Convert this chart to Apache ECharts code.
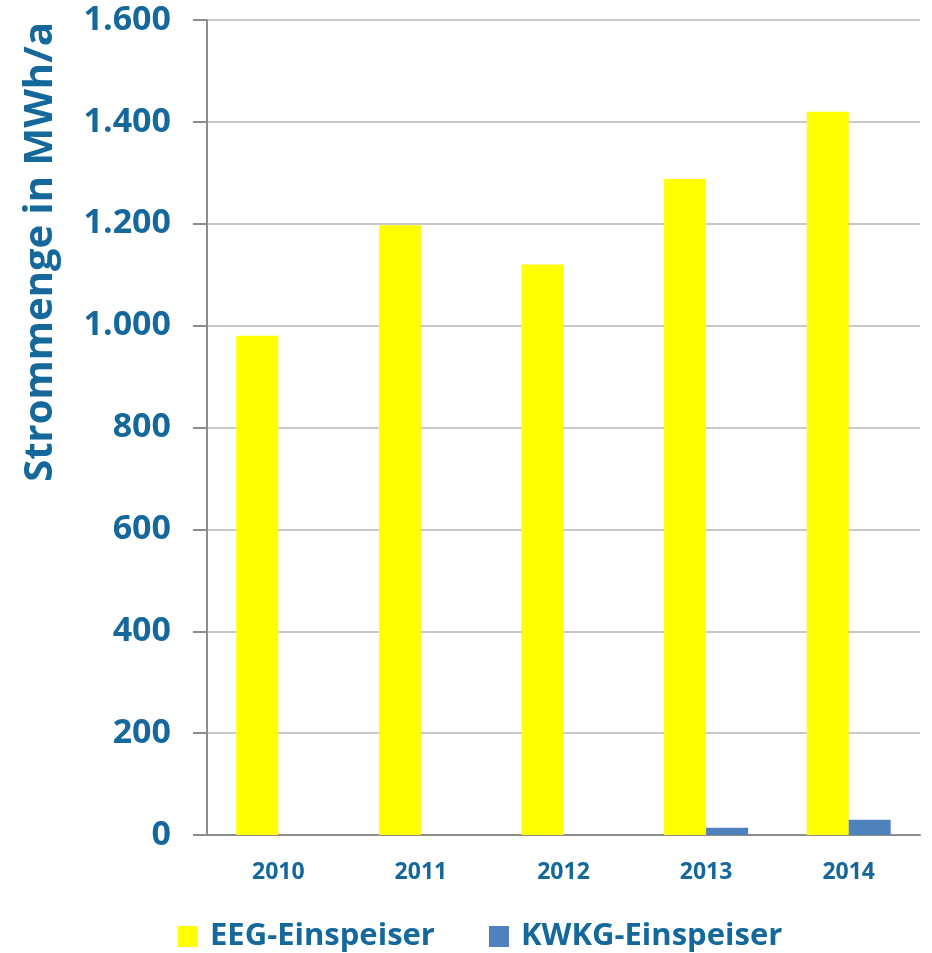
<!DOCTYPE html>
<html>
<head>
<meta charset="utf-8">
<script src="https://cdn.jsdelivr.net/npm/echarts@6/dist/echarts.min.js"></script>
<style>
html,body{margin:0;padding:0;background:#fff;}
#chart{width:932px;height:953px;}
</style>
</head>
<body>
<div id="chart"></div>
<script>
const years = ['2010', '2011', '2012', '2013', '2014'];
const eeg = [980, 1197, 1120, 1288, 1420];
const kwkg = [0, 0, 0, 14, 30];
const seriesNames = ['EEG-Einspeiser', 'KWKG-Einspeiser'];
const yTitle = 'Strommenge in MWh/a';

const textColor = '#15689b';
const fontFam = '"Open Sans", Lato, sans-serif';

function fmt(v) {
    // Tausenderpunkt
    return String(v).replace(/\B(?=(\d{3})+(?!\d))/g, '.');
}

const chart = echarts.init(document.getElementById('chart'));
const option = {
    animation: false,
    backgroundColor: '#fff',
    grid: {
        left: 207,
        right: 12,
        top: 20,
        bottom: 118
    },
    legend: {
        top: 916,
        left: 173,
        itemWidth: 20,
        itemHeight: 21,
        itemGap: 54,
        icon: 'rect',
        textStyle: {
            color: textColor,
            fontSize: 31,
            fontWeight: 'bold',
            fontFamily: fontFam,
            lineHeight: 30,
            padding: [0, 0, 0, 7]
        },
        data: seriesNames
    },
    graphic: [{
        type: 'text',
        x: 41,
        y: 252,
        rotation: Math.PI / 2,
        style: {
            text: yTitle,
            fill: textColor,
            font: 'bold 40px ' + fontFam,
            textAlign: 'center',
            textVerticalAlign: 'middle'
        }
    }],
    xAxis: {
        type: 'category',
        data: years,
        axisLine: {lineStyle: {color: '#8c8c8c', width: 2}},
        axisTick: {show: false},
        axisLabel: {
            margin: 26,
            color: textColor,
            fontSize: 23,
            fontWeight: 'bold',
            fontFamily: fontFam
        }
    },
    yAxis: {
        type: 'value',
        min: 0,
        max: 1600,
        interval: 200,
        axisLine: {show: true, lineStyle: {color: '#8c8c8c', width: 2}},
        axisTick: {show: true, length: 14, lineStyle: {color: '#8c8c8c', width: 2}},
        splitLine: {lineStyle: {color: '#c8c8c8', width: 2}},
        axisLabel: {
            margin: 36,
            color: textColor,
            fontSize: 34,
            fontWeight: 'bold',
            fontFamily: fontFam,
            formatter: fmt
        }
    },
    series: [
        {
            name: seriesNames[0],
            type: 'bar',
            data: eeg,
            barWidth: 42,
            barGap: '0%',
            itemStyle: {color: '#ffff00'}
        },
        {
            name: seriesNames[1],
            type: 'bar',
            data: kwkg,
            barWidth: 42,
            itemStyle: {color: '#4f81bd'}
        }
    ]
};
chart.setOption(option);
</script>
</body>
</html>
